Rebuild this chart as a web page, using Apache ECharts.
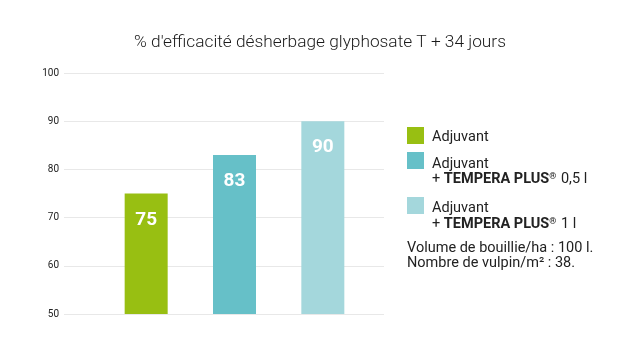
<!DOCTYPE html>
<html><head><meta charset="utf-8">
<script src="https://cdn.jsdelivr.net/npm/echarts@6/dist/echarts.min.js"></script>
<style>html,body{margin:0;padding:0;background:#fff}#c{width:637px;height:337px}</style>
</head><body><div id="c"></div>
<script>
const categories = ['Adjuvant', 'Adjuvant + TEMPERA PLUS® 0,5 l', 'Adjuvant + TEMPERA PLUS® 1 l'];
const values = [75, 83, 90];
const colors = ['#98bf12', '#66c0c8', '#a4d7dc'];
const yTicks = [50, 60, 70, 80, 90, 100];
const titleText = "% d'efficacité désherbage glyphosate T + 34 jours";
const notes = ['Volume de bouillie/ha : 100 l.', 'Nombre de vulpin/m² : 38.'];

const chart = echarts.init(document.getElementById('c'), null, {renderer: 'canvas'});
const font = 'Roboto, "Noto Sans", sans-serif';
const yMin = yTicks[0], yMax = yTicks[yTicks.length - 1], yStep = yTicks[1] - yTicks[0];

const legendX = 407, textX = 432, fs = 14.5;
const rich = {b: {fontWeight: 'bold', fontSize: fs, fontFamily: font, fill: '#222'},
  s: {fontSize: 9, fontWeight: 'bold', fontFamily: font, verticalAlign: 'top', padding: [0,1,6,0]}};
const graphics = [
  {type: 'rect', left: legendX, top: 127, shape: {width: 17, height: 17}, style: {fill: colors[0]}},
  {type: 'rect', left: legendX, top: 152, shape: {width: 17, height: 17}, style: {fill: colors[1]}},
  {type: 'rect', left: legendX, top: 197, shape: {width: 17, height: 17}, style: {fill: colors[2]}},
  {type: 'text', left: textX, top: 130, style: {text: 'Adjuvant', font: fs + 'px ' + font, fill: '#222'}},
  {type: 'text', left: textX, top: 157, style: {text: 'Adjuvant', font: fs + 'px ' + font, fill: '#222'}},
  {type: 'text', left: textX, top: 172, style: {text: '+ {b|TEMPERA PLUS}{s|®} 0,5 l', font: fs + 'px ' + font, fill: '#222', rich: rich}},
  {type: 'text', left: textX, top: 201, style: {text: 'Adjuvant', font: fs + 'px ' + font, fill: '#222'}},
  {type: 'text', left: textX, top: 217, style: {text: '+ {b|TEMPERA PLUS}{s|®} 1 l', font: fs + 'px ' + font, fill: '#222', rich: rich}},
  {type: 'text', left: legendX, top: 241, style: {text: notes[0], font: fs + 'px ' + font, fill: '#222'}},
  {type: 'text', left: legendX, top: 256, style: {text: notes[1], font: fs + 'px ' + font, fill: '#222'}}
];

chart.setOption({
  animation: false,
  backgroundColor: '#fff',
  title: {text: titleText, left: 315, top: 29, textAlign: 'center',
    textStyle: {fontFamily: font, fontWeight: 300, fontSize: 17.3, color: '#1a1a1a'}},
  grid: [
    {left: 64, right: 253, top: 73, bottom: 23},
    {left: 102, width: 265, top: 73, bottom: 23}
  ],
  xAxis: [
    {gridIndex: 0, type: 'category', data: categories, show: false},
    {gridIndex: 1, type: 'category', data: categories, show: false, boundaryGap: true}
  ],
  yAxis: [
    {gridIndex: 0, type: 'value', min: yMin, max: yMax, interval: yStep,
      axisLine: {show: false}, axisTick: {show: false},
      axisLabel: {fontFamily: font, fontSize: 10, color: '#222', margin: 5},
      splitLine: {lineStyle: {color: '#e8e8e8', width: 1}}},
    {gridIndex: 1, type: 'value', min: yMin, max: yMax, interval: yStep, show: false, splitLine: {show: false}}
  ],
  series: [{
    type: 'bar', xAxisIndex: 1, yAxisIndex: 1,
    barWidth: 43,
    data: values.map((v, i) => ({value: v, itemStyle: {color: colors[i]}})),
    label: {show: true, position: 'insideTop', distance: 17, color: '#fff',
      fontFamily: font, fontWeight: 'bold', fontSize: 19}
  }],
  graphic: graphics
});
</script></body></html>
